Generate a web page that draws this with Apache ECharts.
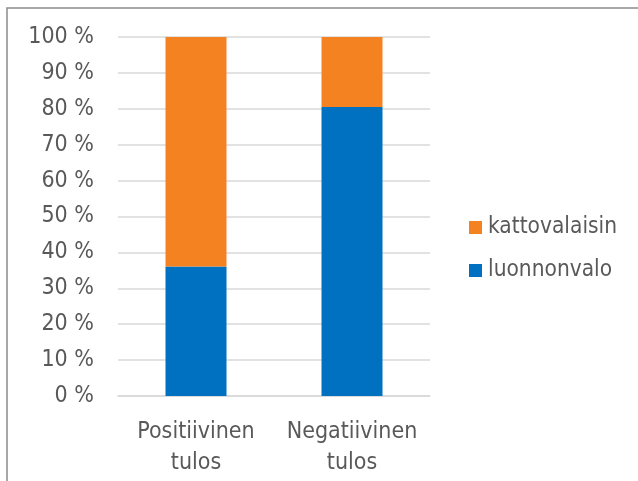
<!DOCTYPE html>
<html>
<head>
<meta charset="utf-8">
<script src="https://cdn.jsdelivr.net/npm/echarts@6/dist/echarts.min.js"></script>
<style>
  html, body { margin: 0; padding: 0; background: #fff; }
  #chart { width: 638px; height: 481px; }
</style>
</head>
<body>
<div id="chart"></div>
<script>
// Share of light source per test result (percent)
const categories = ['Positiivinen\ntulos', 'Negatiivinen\ntulos'];
const luonnonvalo = [36.1, 80.5];
const kattovalaisin = [63.9, 19.5];
const yTicks = [0, 10, 20, 30, 40, 50, 60, 70, 80, 90, 100];

const FONT = '"DejaVu Sans Condensed", "DejaVu Sans", sans-serif';
const TEXT = '#595959';

const chart = echarts.init(document.getElementById('chart'), null, { renderer: 'canvas' });
chart.setOption({
  animation: false,
  backgroundColor: '#fff',
  graphic: [{
    type: 'rect',
    shape: { x: 7, y: 8, width: 700, height: 600 },
    style: { fill: 'none', stroke: '#8c8c8c', lineWidth: 1.5 },
    silent: true
  }],
  grid: { left: 118, right: 208, top: 37, bottom: 85, containLabel: false },
  legend: {
    orient: 'vertical',
    left: 469,
    top: 216,
    padding: 0,
    itemWidth: 13,
    itemHeight: 13,
    itemGap: 20,
    icon: 'rect',
    textStyle: { fontFamily: FONT, fontSize: 22.5, color: TEXT, padding: [0, 0, 0, 1] },
    data: ['kattovalaisin', 'luonnonvalo']
  },
  xAxis: {
    type: 'category',
    data: categories,
    axisLine: { show: true, lineStyle: { color: '#d9d9d9', width: 1.5 } },
    axisTick: { show: false },
    axisLabel: {
      interval: 0,
      fontFamily: FONT, fontSize: 23, color: TEXT, lineHeight: 31, margin: 21
    }
  },
  yAxis: {
    type: 'value',
    min: 0,
    max: 100,
    interval: 10,
    axisLine: { show: false },
    axisTick: { show: false },
    splitLine: { lineStyle: { color: '#d9d9d9', width: 1.5 } },
    axisLabel: {
      fontFamily: FONT, fontSize: 23, color: TEXT, margin: 24,
      formatter: v => (yTicks.includes(v) ? v + ' %' : '')
    }
  },
  series: [
    {
      name: 'luonnonvalo',
      type: 'bar',
      stack: 'total',
      barWidth: 61,
      itemStyle: { color: '#0070C0' },
      data: luonnonvalo
    },
    {
      name: 'kattovalaisin',
      type: 'bar',
      stack: 'total',
      barWidth: 61,
      itemStyle: { color: '#F58220' },
      data: kattovalaisin
    }
  ]
});
</script>
</body>
</html>
